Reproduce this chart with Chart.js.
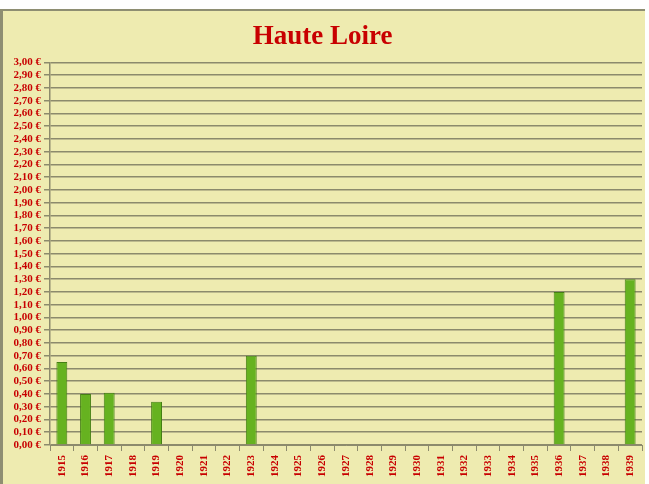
<!DOCTYPE html>
<html>
<head>
<meta charset="utf-8">
<script src="https://cdn.jsdelivr.net/npm/chart.js@4"></script>
<style>
  html, body { margin: 0; padding: 0; background: #fff; }
  #wrap {
    position: absolute; left: 0; top: 9px;
    width: 642px; height: 473px;
    background: #eeebb0;
    border-top: 2px solid #8e8e72;
    border-left: 3px solid #8e8e72;
  }
  canvas { display: block; }
</style>
</head>
<body>
<div id="wrap"><canvas id="chart-canvas" width="642" height="473"></canvas></div>
<script>
// Haute Loire - prix par année
const years = ['1915', '1916', '1917', '1918', '1919', '1920', '1921', '1922', '1923', '1924',
  '1925', '1926', '1927', '1928', '1929', '1930', '1931', '1932', '1933', '1934',
  '1935', '1936', '1937', '1938', '1939'];
const prices = [0.65, 0.40, 0.41, null, 0.34, null, null, null, 0.70, null,
  null, null, null, null, null, null, null, null, null, null,
  null, 1.20, null, null, 1.30];
const yMin = 0, yMax = 3, yStep = 0.1;

const red = '#c80000';
const gridColor = '#8c8a6c';

const ctx = document.getElementById('chart-canvas');
new Chart(ctx, {
  type: 'bar',
  data: {
    labels: years,
    datasets: [{
      label: 'Haute Loire',
      data: prices,
      backgroundColor: '#66b220',
      borderColor: '#457f14',
      borderWidth: 1,
      barPercentage: 0.46,
      categoryPercentage: 1
    }]
  },
  options: {
    responsive: false,
    animation: false,
    layout: { padding: { left: 0, right: 3, top: 0, bottom: 3 } },
    plugins: {
      legend: { display: false },
      tooltip: { enabled: false },
      title: {
        display: true,
        text: 'Haute Loire',
        color: red,
        font: { family: 'Liberation Serif', size: 27, weight: 'bold' },
        padding: { top: 10, bottom: 9 }
      }
    },
    scales: {
      x: {
        offset: true,
        afterFit(scale) { scale.paddingRight = 0; scale.paddingLeft = 0; },
        grid: { offset: true, drawOnChartArea: false, drawTicks: true, tickLength: 6, color: gridColor, lineWidth: 1 },
        border: { color: gridColor, width: 1 },
        ticks: {
          color: red,
          autoSkip: false,
          maxRotation: 90,
          minRotation: 90,
          padding: 4,
          font: { family: 'Liberation Serif', size: 11, weight: 'bold' }
        }
      },
      y: {
        min: yMin,
        max: yMax,
        afterFit(scale) { scale.width = 47; },
        grid: { color: gridColor, lineWidth: 1.5, tickLength: 6 },
        border: { color: gridColor, width: 1.5 },
        ticks: {
          stepSize: yStep,
          autoSkip: false,
          color: red,
          padding: 3,
          font: { family: 'Liberation Serif', size: 11, weight: 'bold' },
          callback: function(v) { return v.toFixed(2).replace('.', ',') + ' €'; }
        }
      }
    }
  }
});
</script>
</body>
</html>
